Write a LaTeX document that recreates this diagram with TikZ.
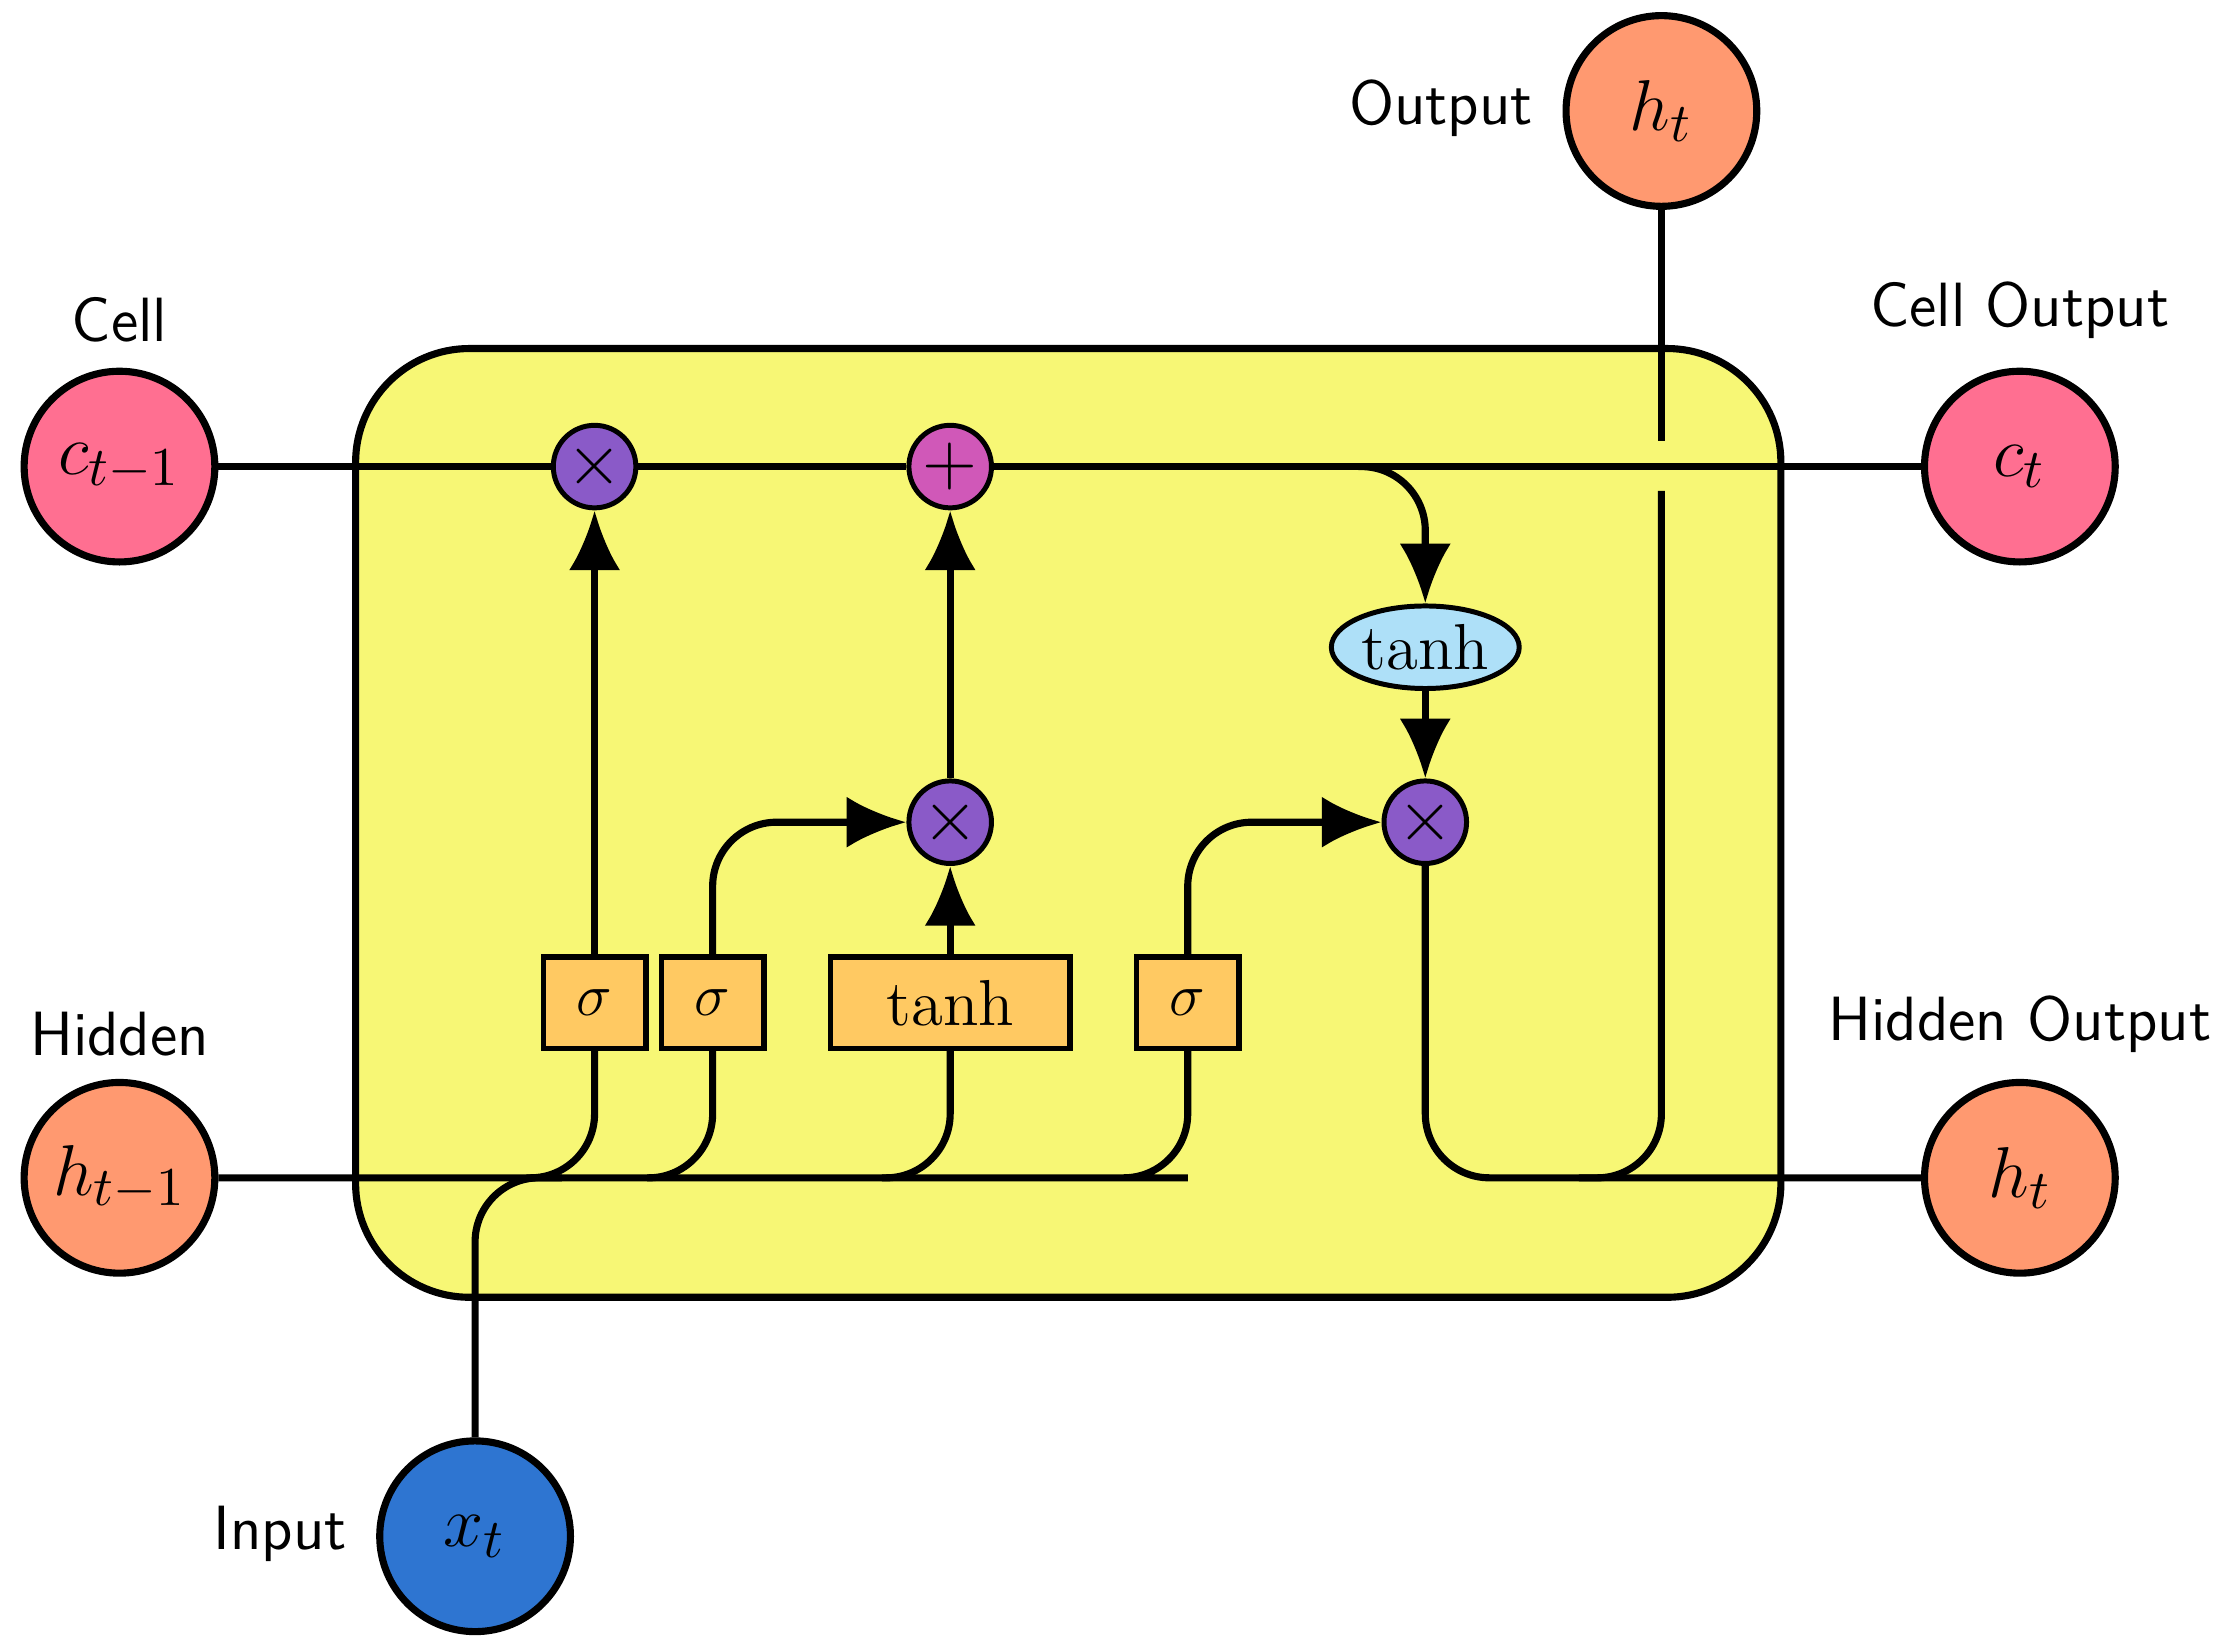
\documentclass[tikz,border=0pt]{standalone}
\usetikzlibrary{shapes.geometric,arrows.meta}
\begin{document}
\begin{tikzpicture}[x=0.01cm,y=-0.01cm,
  lw/.style={line width=0.05cm},
  ln/.style={lw,rounded corners=0.45cm},
  arr/.style={ln,-{Latex[length=0.42cm,width=0.36cm]}},
  big/.style={circle,draw,lw,minimum size=1.34cm,inner sep=0pt,font=\fontsize{15}{17}\selectfont},
  op/.style={circle,draw,line width=0.035cm,minimum size=0.58cm,inner sep=0pt,fill=opc,font=\fontsize{14}{14}\selectfont},
  gate/.style={draw,line width=0.04cm,fill=gatec,minimum height=0.64cm,inner sep=0pt,font=\fontsize{13}{14}\selectfont},
  lab/.style={font=\sffamily\fontsize{12.5}{14}\selectfont}]
\definecolor{cellc}{HTML}{FF6F91}
\definecolor{hidc}{HTML}{FF9970}
\definecolor{xc}{HTML}{2E75D1}
\definecolor{boxc}{HTML}{F7F775}
\definecolor{opc}{HTML}{8A5AC8}
\definecolor{plc}{HTML}{D058B8}
\definecolor{gatec}{HTML}{FFC962}
\definecolor{tanc}{HTML}{AEE0F8}
\useasboundingbox (0,0) rectangle (1560,1156);
\draw[lw,fill=boxc,rounded corners=0.8cm] (250,245) rectangle (1252,912);
\node[big,fill=cellc] (c0) at (84,328) {$c_{t-1}$};
\node[big,fill=hidc] (h0) at (84,828) {$h_{t-1}$};
\node[big,fill=xc] (x) at (334,1080) {$x_t$};
\node[big,fill=cellc] (c1) at (1420,328) {$c_t$};
\node[big,fill=hidc] (h1) at (1420,828) {$h_t$};
\node[big,fill=hidc] (ht) at (1168,78) {$h_t$};
\node[lab] (lc) at (84,225) {Cell};
\node[lab] (lh) at (84,727) {Hidden};
\node[lab] (lx) at (197,1078) {Input};
\node[lab] (lco) at (1420,218) {Cell Output};
\node[lab] (lho) at (1420,720) {Hidden Output};
\node[lab] (lo) at (1013,76) {Output};
\node[op] (m1) at (418,328) {$\times$};
\node[op,fill=plc] (p) at (668,328) {$+$};
\node[op] (m2) at (668,578) {$\times$};
\node[op] (m3) at (1002,578) {$\times$};
\node[ellipse,draw,line width=0.035cm,fill=tanc,minimum width=1.32cm,minimum height=0.58cm,inner sep=0pt,font=\fontsize{13}{14}\selectfont] (te) at (1002,455) {tanh};
\node[gate,minimum width=0.72cm] (s1) at (418,705) {$\sigma$};
\node[gate,minimum width=0.72cm] (s2) at (501,705) {$\sigma$};
\node[gate,minimum width=1.68cm] (tb) at (668,705) {tanh};
\node[gate,minimum width=0.72cm] (s4) at (835,705) {$\sigma$};
% cell line
\draw[lw] (c0) -- (m1) -- (p) -- (c1);
\coordinate (cb) at (955,328);
\draw[arr] (cb) -| (te.north);
% hidden line
\coordinate (hb) at (790,828);
\draw[ln] (h0.east) -- (hb) -| (s4.south);
\coordinate (b1) at (370,828);
\coordinate (b2) at (455,828);
\coordinate (b3) at (620,828);
\draw[ln] (b1) -| (s1.south);
\draw[ln] (b2) -| (s2.south);
\draw[ln] (b3) -| (tb.south);
\coordinate (xb) at (395,828);
\draw[ln] (x.north) |- (xb);
% gates to ops
\draw[arr] (s1.north) -- (m1.south);
\draw[arr] (s2.north) |- (m2.west);
\draw[arr] (tb.north) -- (m2.south);
\draw[arr] (m2.north) -- (p.south);
\draw[arr] (s4.north) |- (m3.west);
\draw[arr] (te.south) -- (m3.north);
% output
\draw[ln] (m3.south) |- (h1.west);
\coordinate (ob) at (1110,828);
\coordinate (og) at (1168,345);
\coordinate (og2) at (1168,310);
\draw[ln] (ob) -| (og);
\draw[lw] (og2) -- (ht.south);
\end{tikzpicture}
\end{document}
